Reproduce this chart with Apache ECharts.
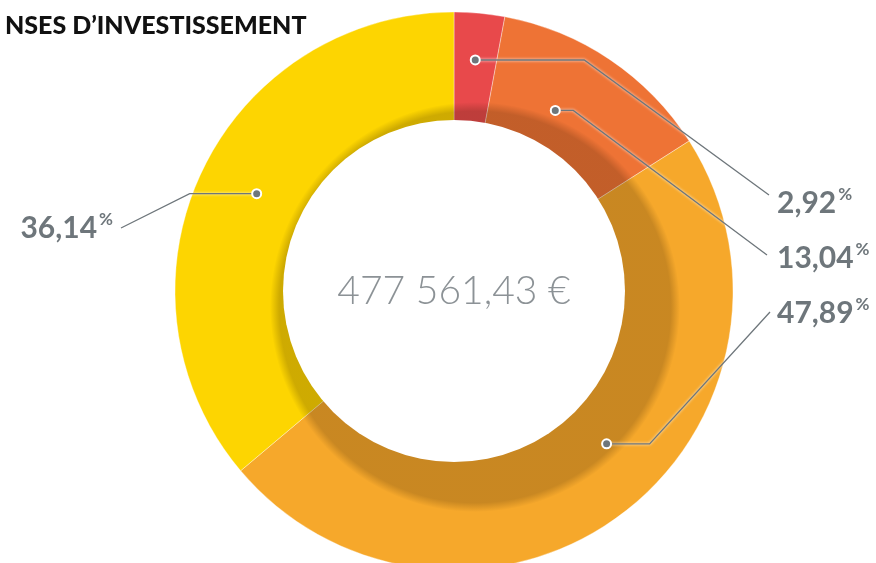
<!DOCTYPE html>
<html><head><meta charset="utf-8">
<script src="https://cdn.jsdelivr.net/npm/echarts@6/dist/echarts.min.js"></script>
<style>html,body{margin:0;padding:0;background:#fff}#c{width:876px;height:563px}</style>
</head><body><div id="c"></div>
<script>
// ---- data ----
const categories = ['Part A', 'Part B', 'Part C', 'Part D'];
const shares = [2.92, 13.04, 47.89, 36.14];
const colors = ['#E8494B', '#EE7335', '#F6A82B', '#FDD501'];
const totalLabel = '477 561,43 €';
const titleText = 'NSES D’INVESTISSEMENT';

// ---- layout ----
const CX = 454, CY = 291, R_OUT = 279, R_IN = 171;
const SH_CX = 475, SH_CY = 307, SH_R = 205;   // inner cast shadow
const dotRadius = [232, 207, 216, 220];       // leader dot radius inside each slice
const dotFrac = [0.5, 0.4, 0.45, 0.51];       // leader dot position along each slice
const elbowLen = [109, 18, 43, -67];
const labelPos = [[777, 203, 'left'], [777, 258, 'left'], [777, 313, 'left'], [113, 228, 'right']];
const lineEnd = [[769, 195], [767, 255], [770, 312], [121, 228]];

const total = shares.reduce((a, b) => a + b, 0);
const anchors = [];
let acc = 0;
shares.forEach((v, i) => { anchors.push(acc + v * dotFrac[i]); acc += v; });

function dotXY(i) {
  const a = anchors[i] / total * Math.PI * 2;
  return [CX + dotRadius[i] * Math.sin(a), CY - dotRadius[i] * Math.cos(a)];
}
const fmt = v => v.toFixed(2).replace('.', ',');
const sliceData = (withColor) => shares.map((v, i) => ({name: categories[i], value: v,
  itemStyle: {color: withColor ? colors[i] : 'rgba(0,0,0,0)'}}));

const chart = echarts.init(document.getElementById('c'), null, {renderer: 'canvas'});
chart.setOption({
  animation: false,
  title: {
    text: titleText, left: 0, top: 8,
    textStyle: {fontFamily: 'Lato', fontWeight: 900, fontSize: 25, color: '#111'}
  },
  polar: {center: [CX, CY], radius: R_OUT},
  angleAxis: {type: 'value', min: 0, max: total, startAngle: 90, clockwise: true, show: false},
  radiusAxis: {type: 'value', min: 0, max: R_OUT, show: false},
  series: [
    {
      type: 'pie', center: [CX, CY], radius: [R_IN - 10, R_OUT], startAngle: 90, clockwise: true,
      silent: true, z: 1,
      itemStyle: {borderColor: 'rgba(255,255,255,0.6)', borderWidth: 0.6},
      label: {show: false}, labelLine: {show: false},
      data: sliceData(true)
    },
    {
      type: 'pie', center: [SH_CX, SH_CY], radius: [0, SH_R], silent: true, z: 2,
      label: {show: false}, labelLine: {show: false},
      itemStyle: {color: new echarts.graphic.RadialGradient(0.5, 0.5, 0.5, [
        {offset: 0, color: 'rgba(40,20,0,0.22)'},
        {offset: 0.955, color: 'rgba(40,20,0,0.22)'},
        {offset: 1, color: 'rgba(40,20,0,0)'}
      ])},
      data: [{value: 1, name: 'shadow'}]
    },
    {
      type: 'pie', center: [CX, CY], radius: [0, R_IN], silent: true, z: 3,
      label: {show: true, position: 'center', formatter: totalLabel,
        fontFamily: 'Lato', fontWeight: 300, fontSize: 39, color: '#8C9296'},
      labelLine: {show: false},
      itemStyle: {color: '#fff'},
      data: [{value: 1, name: 'total'}]
    },
    {
      type: 'pie', center: [CX, CY], radius: [R_IN - 10, R_OUT], startAngle: 90, clockwise: true,
      silent: true, z: 4,
      data: sliceData(false),
      label: {
        show: true,
        formatter: p => '{v|' + fmt(p.value) + '}{p|%}',
        rich: {
          v: {fontFamily: 'Lato', fontWeight: 'bold', fontSize: 30, color: '#6E767B', lineHeight: 34},
          p: {fontFamily: 'Lato', fontWeight: 'bold', fontSize: 17, color: '#6E767B', verticalAlign: 'top', lineHeight: 22, padding: [0, 0, 0, 2]}
        }
      },
      labelLine: {show: true, showAbove: true, lineStyle: {color: '#6E767B', width: 1.3, shadowColor: '#fff', shadowBlur: 3}},
      labelLayout: function (params) {
        const i = params.dataIndex;
        const d = dotXY(i);
        return {
          x: labelPos[i][0], y: labelPos[i][1], align: labelPos[i][2], verticalAlign: 'middle',
          labelLinePoints: [d, [d[0] + elbowLen[i], d[1]], lineEnd[i]]
        };
      }
    },
    {
      type: 'scatter', coordinateSystem: 'polar', silent: true, z: 5,
      symbol: 'circle', symbolSize: 9,
      itemStyle: {color: '#6E767B', borderColor: '#fff', borderWidth: 2, opacity: 1},
      data: shares.map((v, i) => [dotRadius[i], anchors[i]])
    }
  ]
});
</script></body></html>
